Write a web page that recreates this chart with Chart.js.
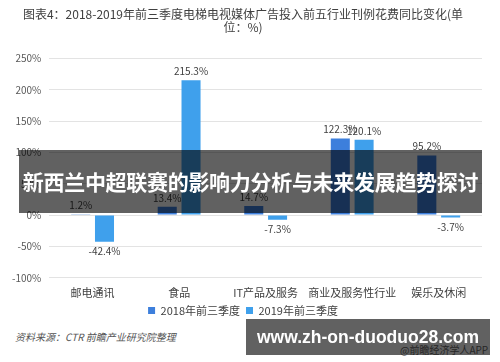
<!DOCTYPE html>
<html>
<head>
<meta charset="utf-8">
<script src="https://cdn.jsdelivr.net/npm/chart.js@4"></script>
<style>
  body { margin: 0; background: #fff; font-family: "Noto Sans CJK SC", sans-serif; }
  #wrap { position: absolute; left: 0; top: 0; width: 500px; height: 326px; }
  #source { position: absolute; left: 15px; top: 329px; font-size: 10px; font-style: italic; color: #555; }
  #band { position: absolute; left: 19px; top: 150px; width: 463px; height: 63px; background: rgba(0,0,0,0.62);
          color: #fff; font-weight: bold; font-size: 21px; line-height: 63px; text-align: center; white-space: nowrap; letter-spacing: -0.3px; }
  #app { position: absolute; left: 400px; top: 342px; font-size: 10px; color: #666; }
  #site { position: absolute; left: 246px; top: 319px; width: 244px; height: 36px; background: rgba(0,0,0,0.62);
          color: #fff; font-weight: bold; font-size: 17.5px; line-height: 36px; text-align: center; white-space: nowrap; font-family: "Liberation Sans", sans-serif; }
</style>
</head>
<body>
<div id="wrap"><canvas id="chart"></canvas></div>
<div id="source">资料来源：CTR 前瞻产业研究院整理</div>
<div id="app">@前瞻经济学人APP</div>
<div id="band">新西兰中超联赛的影响力分析与未来发展趋势探讨</div>
<div id="site">www.zh-on-duoduo28.com</div>
<script>
var categories = ['邮电通讯', '食品', 'IT产品及服务', '商业及服务性行业', '娱乐及休闲'];
var series2018 = [1.2, 13.4, 14.7, 122.3, 95.2];
var series2019 = [-42.4, 215.3, -7.3, 120.1, -3.7];
var seriesNames = ['2018年前三季度', '2019年前三季度'];

var valueLabels = {
    id: 'valueLabels',
    afterDatasetsDraw: function (chart) {
        var ctx = chart.ctx;
        ctx.save();
        ctx.font = '10px "Noto Sans CJK SC", sans-serif';
        ctx.fillStyle = '#404040';
        ctx.textAlign = 'center';
        chart.data.datasets.forEach(function (ds, i) {
            chart.getDatasetMeta(i).data.forEach(function (bar, j) {
                var v = ds.data[j];
                if (v >= 0) {
                    ctx.textBaseline = 'bottom';
                    ctx.fillText(v.toFixed(1) + '%', bar.x, bar.y - 4);
                } else {
                    ctx.textBaseline = 'top';
                    ctx.fillText(v.toFixed(1) + '%', bar.x, bar.y + 5);
                }
            });
        });
        ctx.restore();
    }
};

var ctx = document.getElementById('chart').getContext('2d');
var chart = new Chart(ctx, {
    type: 'bar',
    data: {
        labels: categories,
        datasets: [{
            label: seriesNames[0],
            data: series2018,
            backgroundColor: '#3D7FDC',
            categoryPercentage: 0.55,
            barPercentage: 0.8
        }, {
            label: seriesNames[1],
            data: series2019,
            backgroundColor: '#3FA0EC',
            categoryPercentage: 0.55,
            barPercentage: 0.8
        }]
    },
    options: {
        responsive: true,
        maintainAspectRatio: false,
        animation: false,
        layout: { padding: { left: 4, right: 18, top: 0, bottom: 0 } },
        plugins: {
            title: {
                display: true,
                text: ['图表4：2018-2019年前三季度电梯电视媒体广告投入前五行业刊例花费同比变化(单', '位：%)'],
                color: '#404040',
                font: { size: 12, weight: 'normal', family: '"Noto Sans CJK SC", sans-serif', lineHeight: 1.1 },
                padding: { top: 8, bottom: 24 }
            },
            legend: {
                position: 'bottom',
                labels: {
                    boxWidth: 7,
                    boxHeight: 7,
                    color: '#404040',
                    font: { size: 11, family: '"Noto Sans CJK SC", sans-serif' },
                    padding: 6
                }
            },
            tooltip: { enabled: false }
        },
        scales: {
            x: {
                grid: { display: false },
                border: { display: false },
                ticks: { color: '#404040', font: { size: 11, family: '"Noto Sans CJK SC", sans-serif' }, maxRotation: 0, autoSkip: false, padding: 0 }
            },
            y: {
                min: -100,
                max: 250,
                border: { display: false },
                grid: { color: '#e3e3e3', drawTicks: false },
                ticks: {
                    stepSize: 50,
                    padding: 8,
                    color: '#595959',
                    font: { size: 10, family: '"Noto Sans CJK SC", sans-serif' },
                    callback: function (v) { return v + '%'; }
                }
            }
        }
    },
    plugins: [valueLabels]
});
</script>
</body>
</html>
